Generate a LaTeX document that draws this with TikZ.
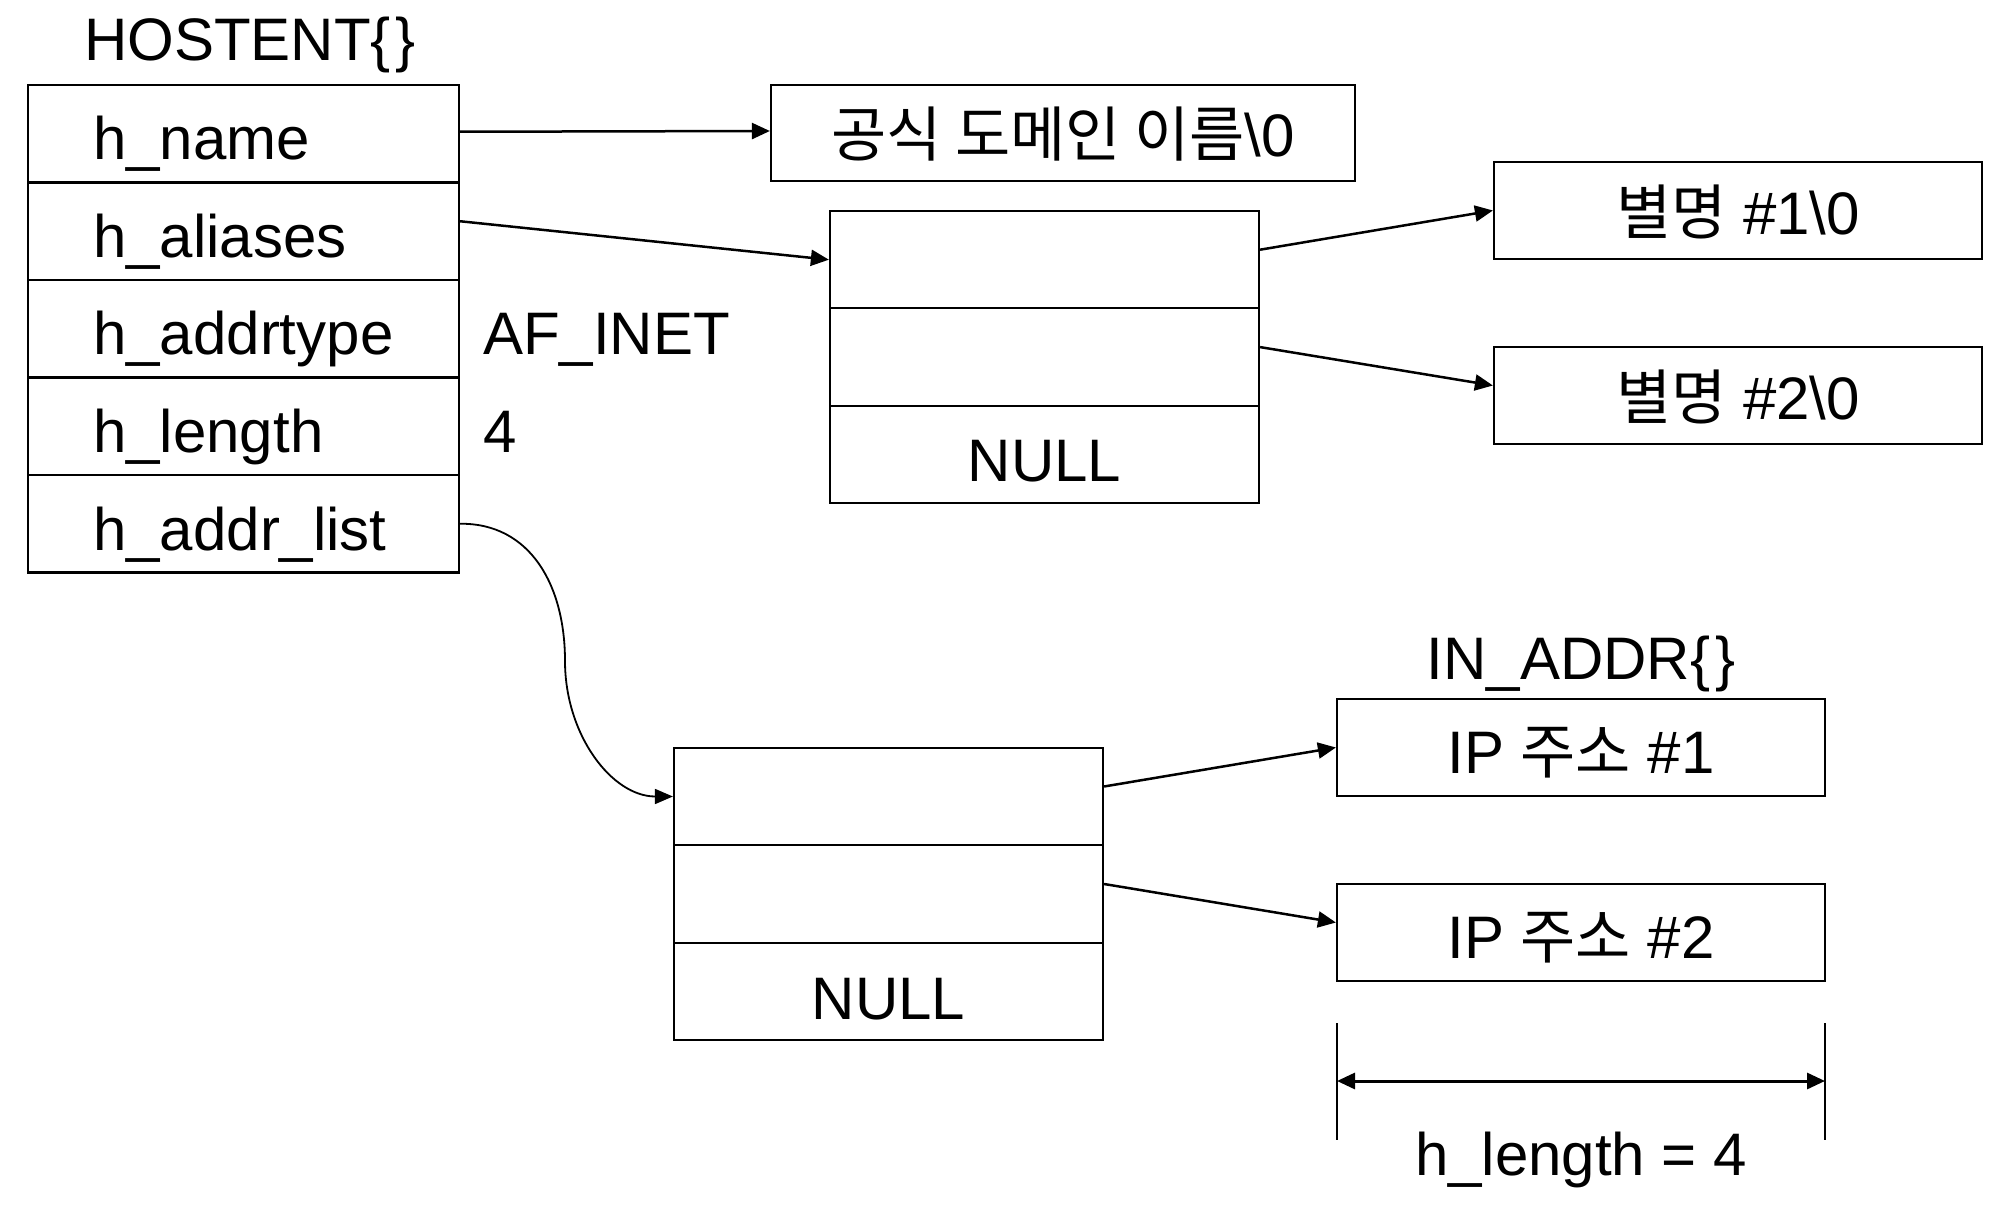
\documentclass[tikz,border=0pt]{standalone}
\usepackage{fontspec}
\setmainfont{Liberation Sans}
\newfontfamily\kr{Noto Sans CJK KR}
\usetikzlibrary{arrows.meta}
\begin{document}
\begin{tikzpicture}[x=1pt,y=-1pt,
  cell/.style={draw,line width=2.2pt,minimum width=431pt,minimum height=97.5pt,inner sep=0pt},
  acell/.style={draw,line width=2.2pt,minimum width=429pt,minimum height=97.4pt,inner sep=0pt},
  sbox/.style={draw,line width=2.2pt,minimum width=488pt,minimum height=97pt,inner sep=0pt},
  txt/.style={font=\fontsize{60pt}{72pt}\selectfont,inner sep=0pt,anchor=base west},
  ctxt/.style={font=\fontsize{60pt}{72pt}\selectfont,inner sep=0pt,anchor=base},
  ptr/.style={line width=2.5pt,-{Triangle[length=18pt,width=16pt]}},
  curvy/.style={line width=1.8pt,-{Triangle[length=18pt,width=15pt]}},
  dimline/.style={line width=1.5pt},
  dimarrow/.style={line width=3pt,{Triangle[length=18pt,width=16pt]}-{Triangle[length=18pt,width=16pt]}},
]
\useasboundingbox (0,0) rectangle (2014,1222);
\fill[white] (0,0) rectangle (2014,1222);

% HOSTENT structure
\node[txt] (thost) at (84,61) {HOSTENT\{\hspace{5pt}\}};
\node[cell] (r1) at (243.5,133.75) {};
\node[cell] (r2) at (243.5,231.25) {};
\node[cell] (r3) at (243.5,328.75) {};
\node[cell] (r4) at (243.5,426.25) {};
\node[cell] (r5) at (243.5,523.75) {};
\node[txt] (t1) at (93,160) {h\_name};
\node[txt] (t2) at (93,257.5) {h\_aliases};
\node[txt] (t3) at (93,355) {h\_addrtype};
\node[txt] (t4) at (93,452.5) {h\_length};
\node[txt] (t5) at (93,550) {h\_addr\_list};
\node[txt] (vtype) at (483,355) {AF\_INET};
\node[txt] (vlen) at (483,452.5) {4};

% official name
\node[draw,line width=2.2pt,minimum width=584pt,minimum height=96pt,inner sep=0pt] (nbox) at (1063,133) {};
\node[ctxt] (ntxt) at (1063,157) {{\kr 공식 도메인 이름}\textbackslash 0};

% alias array
\node[acell] (al1) at (1044.5,259.7) {};
\node[acell] (al2) at (1044.5,357.1) {};
\node[acell] (al3) at (1044.5,454.5) {};
\node[ctxt] (alnull) at (1044.5,482) {NULL};

% alias strings
\node[sbox] (as1) at (1738,210.5) {};
\node[sbox] (as2) at (1738,395.5) {};
\node[ctxt] (ast1) at (1738,235) {{\kr 별명} \#1\textbackslash 0};
\node[ctxt] (ast2) at (1738,420) {{\kr 별명} \#2\textbackslash 0};

% addr array
\node[acell] (ad1) at (888.5,796.5) {};
\node[acell] (ad2) at (888.5,894) {};
\node[acell] (ad3) at (888.5,991.5) {};
\node[ctxt] (adnull) at (888.5,1019) {NULL};

% IN_ADDR
\node[ctxt] (tin) at (1581,679) {IN\_ADDR\{\hspace{5pt}\}};
\node[sbox] (ip1) at (1581,747.5) {};
\node[sbox] (ip2) at (1581,932.5) {};
\node[ctxt] (ipt1) at (1581,773) {IP {\kr 주소} \#1};
\node[ctxt] (ipt2) at (1581,958) {IP {\kr 주소} \#2};

% connectors
\draw[ptr] ([yshift=2pt]r1.east) -- ([yshift=2pt]nbox.west);
\draw[ptr] ([yshift=10pt]r2.east) -- (al1.west);
\draw[ptr] ([yshift=10pt]al1.east) -- (as1.west);
\draw[ptr] ([yshift=10pt]al2.east) -- ([yshift=10pt]as2.west);
\draw[ptr] ([yshift=10pt]ad1.east) -- (ip1.west);
\draw[ptr] ([yshift=10pt]ad2.east) -- ([yshift=10pt]ip2.west);
\draw[curvy] (r5.east) .. controls (530,523) and (565,585) .. (565,661)
  .. controls (565,735) and (612,796.5) .. (ad1.west);

% dimension
\coordinate (dl1) at (1337,1023);
\coordinate (dl2) at (1337,1140);
\coordinate (dr1) at (1825,1023);
\coordinate (dr2) at (1825,1140);
\coordinate (da) at (1337,1081);
\coordinate (db) at (1825,1081);
\draw[dimline] (dl1) -- (dl2);
\draw[dimline] (dr1) -- (dr2);
\draw[dimarrow] (da) -- (db);
\node[ctxt] (dimtxt) at (1581,1175) {h\_length = 4};
\end{tikzpicture}
\end{document}
